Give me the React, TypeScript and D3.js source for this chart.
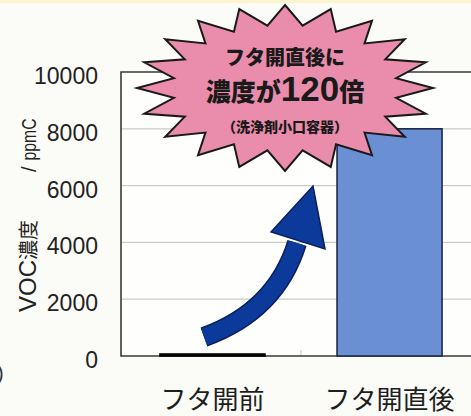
import React, { useEffect, useRef } from 'react';
import * as d3 from 'd3';

// chart values
const categories = ['フタ開前', 'フタ開直後'];
const vocValues = [70, 8000];
const barFills = ['#141414', '#6a8fd3'];
const yTicks = [0, 2000, 4000, 6000, 8000, 10000];

const W = 471;
const H = 416;
const JP = '"Noto Sans CJK JP", "Noto Sans", sans-serif';
const LATIN = '"Liberation Sans", Arial, sans-serif';

export default function App() {
  const ref = useRef<SVGSVGElement | null>(null);

  useEffect(() => {
    document.body.style.margin = '0';
    const svg = d3.select(ref.current);
    svg.selectAll('*').remove();

    svg.append('rect').attr('width', W).attr('height', H).attr('fill', '#fbfbf7');
    svg.append('rect').attr('width', W).attr('height', 3).attr('fill', '#fbf4cc');

    const x = d3.scaleBand<string>()
      .domain(categories)
      .range([121, 481])
      .paddingInner(0.407)
      .paddingOuter(0.22);

    const y = d3.scaleLinear().domain([0, 10000]).range([356, 72]);

    // plot area
    svg.append('rect')
      .attr('x', 121).attr('y', y(10000))
      .attr('width', 481 - 121).attr('height', y(0) - y(10000))
      .attr('fill', '#fefefd');

    // gridlines
    svg.append('g')
      .selectAll('line')
      .data(yTicks.filter(d => d > 0 && d < 10000))
      .enter()
      .append('line')
      .attr('x1', 121).attr('x2', 481)
      .attr('y1', d => y(d)).attr('y2', d => y(d))
      .attr('stroke', '#c9c9c6')
      .attr('stroke-width', 1.3);

    // category separator tick
    const sep = (x(categories[0])! + x.bandwidth() + x(categories[1])!) / 2;
    svg.append('line')
      .attr('x1', sep).attr('x2', sep)
      .attr('y1', y(0)).attr('y2', y(0) - 6)
      .attr('stroke', '#c9c9c6').attr('stroke-width', 1.2);

    // frame
    svg.append('path')
      .attr('d', `M481,${y(10000)}H121V${y(0)}H481`)
      .attr('fill', 'none')
      .attr('stroke', '#3a3a3a')
      .attr('stroke-width', 1.6);

    // bars
    svg.append('g')
      .selectAll('rect')
      .data(vocValues)
      .enter()
      .append('rect')
      .attr('x', (d, i) => x(categories[i])!)
      .attr('y', d => y(d))
      .attr('width', x.bandwidth())
      .attr('height', d => y(0) - y(d))
      .attr('fill', (d, i) => barFills[i])
      .attr('stroke', (d, i) => (i === 0 ? '#000' : '#1d2a4a'))
      .attr('stroke-width', 1.6);

    // y tick labels
    svg.append('g')
      .selectAll('text')
      .data(yTicks)
      .enter()
      .append('text')
      .attr('x', 98)
      .attr('y', d => y(d) + 12)
      .attr('text-anchor', 'end')
      .attr('font-family', LATIN)
      .attr('font-size', 23)
      .attr('fill', '#222')
      .text(d => String(d));

    // x labels
    svg.append('g')
      .selectAll('text')
      .data(categories)
      .enter()
      .append('text')
      .attr('x', d => x(d)! + x.bandwidth() / 2)
      .attr('y', 409)
      .attr('text-anchor', 'middle')
      .attr('font-family', JP)
      .attr('font-size', 26)
      .attr('fill', '#1e1e1e')
      .text(d => d);

    // y axis title
    const yt = svg.append('text')
      .attr('transform', 'translate(36,312) rotate(-90)')
      .attr('font-family', LATIN)
      .attr('fill', '#222');
    yt.append('tspan').attr('font-size', 24).text('VOC');
    yt.append('tspan').attr('font-size', 20).attr('font-family', JP).text('濃度');
    yt.append('tspan').attr('font-size', 20).attr('dx', 48).text('/');
    yt.append('tspan').attr('font-size', 20).attr('dx', 6)
      .attr('textLength', 42).attr('lengthAdjust', 'spacingAndGlyphs')
      .text('ppmC');

    // cut off bracket at left edge
    svg.append('text')
      .attr('x', -3).attr('y', 380)
      .attr('font-family', LATIN).attr('font-size', 20).attr('fill', '#333')
      .text(')');

    // curved arrow
    const shaft = 'M204,337 Q276,311 297,243';
    svg.append('path').attr('d', shaft)
      .attr('fill', 'none').attr('stroke', '#0c1f5e').attr('stroke-width', 20);
    svg.append('path').attr('d', shaft)
      .attr('fill', 'none').attr('stroke', '#0b3a9b').attr('stroke-width', 17);
    svg.append('path')
      .attr('d', 'M271,232 L313,186 L325,249 Z')
      .attr('fill', '#0b3a9b')
      .attr('stroke', '#0c1f5e')
      .attr('stroke-width', 1.5)
      .attr('stroke-linejoin', 'miter');

    // starburst callout
    const cx = 285, cy = 88, rx = 148, ry = 83, spikes = 20;
    const pts: [number, number][] = [];
    for (let i = 0; i < spikes * 2; i++) {
      const a = -Math.PI / 2 + (i * Math.PI) / spikes;
      const r = i % 2 === 0 ? 1 : 0.76;
      pts.push([cx + Math.cos(a) * rx * r, cy + Math.sin(a) * ry * r]);
    }
    svg.append('path')
      .attr('d', d3.line()(pts) + 'Z')
      .attr('fill', '#ea8cab')
      .attr('stroke', '#1a1a1a')
      .attr('stroke-width', 2)
      .attr('stroke-linejoin', 'miter');

    svg.append('text')
      .attr('x', cx).attr('y', 65)
      .attr('text-anchor', 'middle')
      .attr('font-family', JP).attr('font-weight', 900)
      .attr('font-size', 20).attr('fill', '#1a1a1a')
      .text('フタ開直後に');

    const l2 = svg.append('text')
      .attr('x', cx).attr('y', 101)
      .attr('text-anchor', 'middle')
      .attr('font-family', JP).attr('font-weight', 900)
      .attr('fill', '#1a1a1a');
    l2.append('tspan').attr('font-size', 25).text('濃度が');
    l2.append('tspan').attr('font-size', 35).attr('font-family', LATIN).attr('font-weight', 'bold').text('120');
    l2.append('tspan').attr('font-size', 25).text('倍');

    svg.append('text')
      .attr('x', cx).attr('y', 132)
      .attr('text-anchor', 'middle')
      .attr('font-family', JP).attr('font-weight', 900)
      .attr('font-size', 14).attr('fill', '#1a1a1a')
      .text('（洗浄剤小口容器）');
  }, []);

  return (
    <svg ref={ref} width={W} height={H} style={{ position: 'absolute', left: 0, top: 0 }} />
  );
}
